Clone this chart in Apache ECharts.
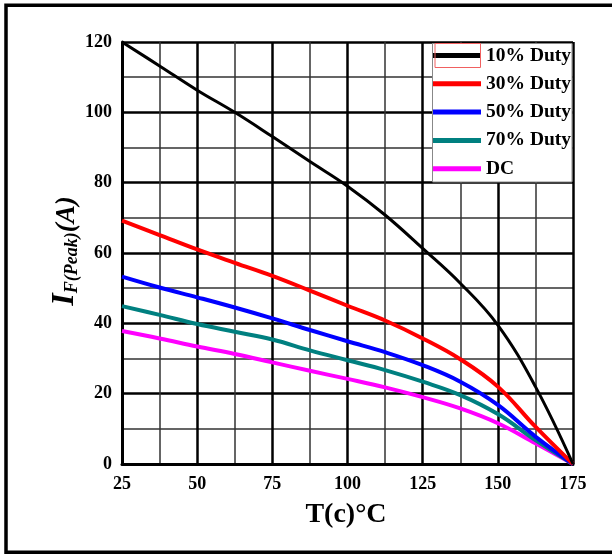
<!DOCTYPE html>
<html>
<head>
<meta charset="utf-8">
<script src="https://cdn.jsdelivr.net/npm/echarts@6/dist/echarts.min.js"></script>
<style>
html,body{margin:0;padding:0;background:#fff;}
#chart{width:612px;height:554px;}
</style>
</head>
<body>
<div id="chart"></div>
<script>
const temps = [25, 37.5, 50, 62.5, 75, 87.5, 100, 112.5, 125, 137.5, 150, 162.5, 175];
const duty10 = [120, 113.2, 106.3, 100, 93.1, 86, 79, 70.8, 61.3, 51.4, 39.5, 22, 0];
const duty30 = [69.2, 65.1, 61, 57.2, 53.5, 49.3, 45, 40.8, 35.7, 29.8, 22, 10.6, 0];
const duty50 = [53.3, 50.2, 47.4, 44.5, 41.4, 38.1, 34.9, 31.8, 28.1, 23.4, 16.8, 7.8, 0];
const duty70 = [44.9, 42.4, 39.8, 37.6, 35.4, 32.3, 29.5, 26.7, 23.4, 19.6, 14.2, 6.8, 0];
const dutyDC = [37.8, 35.7, 33.4, 31.3, 28.9, 26.5, 24.2, 21.8, 19, 15.8, 11.6, 5.9, 0];
const seriesNames = ['10% Duty', '30% Duty', '50% Duty', '70% Duty', 'DC'];
const seriesColors = ['#000000', '#ff0000', '#0000ff', '#008080', '#ff00ff'];
const seriesWidths = [3, 4, 4, 4, 4];
const seriesValues = [duty10, duty30, duty50, duty70, dutyDC];

const chart = echarts.init(document.getElementById('chart'), null, {renderer: 'canvas'});
const serif = 'Liberation Serif, Times New Roman, serif';

const series = seriesNames.map((name, i) => ({
  name: name,
  type: 'line',
  data: temps.map((t, j) => [t, seriesValues[i][j]]),
  smooth: 0.4,
  symbol: 'none',
  lineStyle: {color: seriesColors[i], width: seriesWidths[i]},
  itemStyle: {color: seriesColors[i]},
  z: 2 + (4 - i)
}));

chart.setOption({
  animation: false,
  backgroundColor: '#fff',
  grid: {left: 122, right: 39, top: 42, bottom: 90, containLabel: false},
  xAxis: {
    type: 'value', min: 25, max: 175, interval: 25,
    axisLine: {show: true, onZero: false, lineStyle: {color: '#000', width: 3}},
    axisTick: {show: false},
    minorTick: {show: false, splitNumber: 2},
    axisLabel: {color: '#000', fontFamily: serif, fontWeight: 'bold', fontSize: 18, margin: 11},
    splitLine: {show: true, lineStyle: {color: '#000', width: 2.5}},
    minorSplitLine: {show: true, lineStyle: {color: '#333', width: 1.5}}
  },
  yAxis: {
    type: 'value', min: 0, max: 120, interval: 20,
    axisLine: {show: true, onZero: false, lineStyle: {color: '#000', width: 3}},
    axisTick: {show: false},
    minorTick: {show: false, splitNumber: 2},
    axisLabel: {color: '#000', fontFamily: serif, fontWeight: 'bold', fontSize: 18, margin: 10},
    splitLine: {show: true, lineStyle: {color: '#000', width: 2.5}},
    minorSplitLine: {show: true, lineStyle: {color: '#333', width: 1.5}}
  },
  legend: {
    orient: 'vertical',
    left: 433, top: 45.5,
    padding: 0,
    itemGap: 8.3,
    itemWidth: 48, itemHeight: 5,
    icon: 'rect',
    z: 5,
    textStyle: {color: '#000', fontFamily: serif, fontWeight: 'bold', fontSize: 19.5, lineHeight: 19},
    data: seriesNames
  },
  graphic: [
    {type: 'rect', z: 3, shape: {x: 432.5, y: 43.5, width: 139.5, height: 138.5},
      style: {fill: '#fff', stroke: '#888', lineWidth: 1}},
    {type: 'rect', z: 6, shape: {x: 435, y: 43.5, width: 45.5, height: 24},
      style: {fill: 'none', stroke: '#f06060', lineWidth: 1}},
    {type: 'rect', z: 10, shape: {x: 6, y: 5.3, width: 640, height: 547},
      style: {fill: 'none', stroke: '#000', lineWidth: 3.5}},
    {type: 'text', z: 10, x: 346, y: 515,
      style: {text: 'T(c)°C', fill: '#000', font: 'bold 28px ' + serif, textAlign: 'center', textVerticalAlign: 'middle'}},
    {type: 'text', z: 10, x: 65, y: 251, rotation: Math.PI / 2,
      style: {
        text: '{a|I}{b|F(Peak)}{c|(A)}',
        textAlign: 'center', textVerticalAlign: 'middle',
        rich: {
          a: {fontFamily: serif, fontStyle: 'italic', fontWeight: 'bold', fontSize: 32, fill: '#000', verticalAlign: 'bottom', lineHeight: 32},
          b: {fontFamily: serif, fontStyle: 'italic', fontWeight: 'bold', fontSize: 18, fill: '#000', verticalAlign: 'bottom', lineHeight: 18},
          c: {fontFamily: serif, fontStyle: 'italic', fontWeight: 'bold', fontSize: 27, fill: '#000', verticalAlign: 'bottom', lineHeight: 27}
        }
      }}
  ],
  series: series
});
</script>
</body>
</html>
